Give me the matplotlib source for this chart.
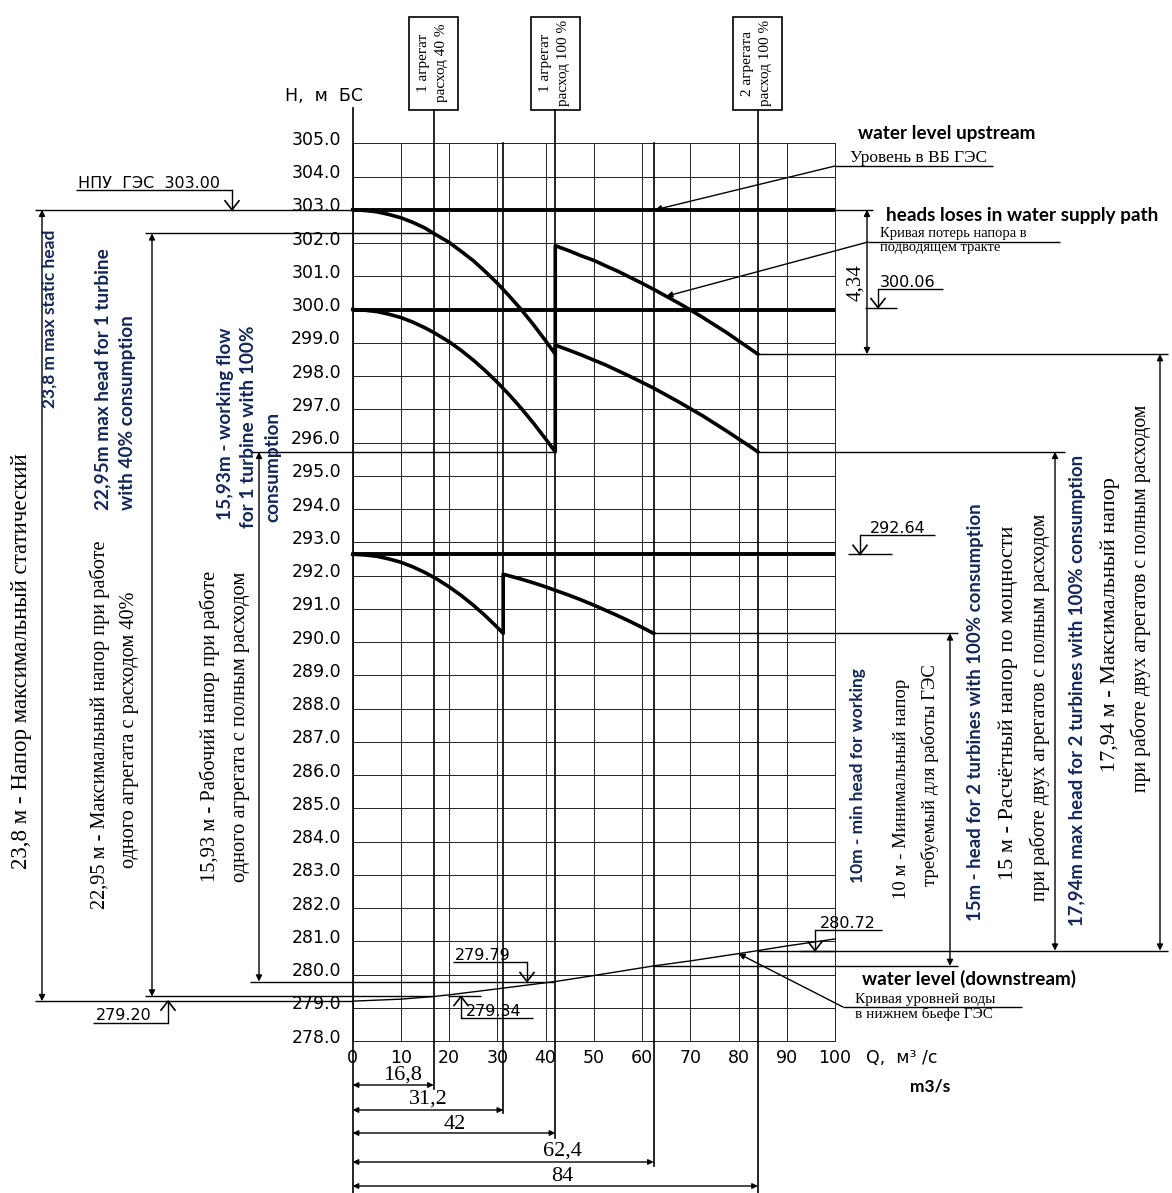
"""Head vs. discharge diagram for a small HPP (upstream level, head losses, tailwater)."""
import matplotlib
matplotlib.use("Agg")
import matplotlib.pyplot as plt
import numpy as np

# ---- values ----
q_ticks = [0, 10, 20, 30, 40, 50, 60, 70, 80, 90, 100]
h_ticks = list(range(278, 306))
q_marks = [16.8, 31.2, 42, 62.4, 84]
q_mark_labels = ["16,8", "31,2", "42", "62,4", "84"]

h_upstream = 303.00
h_level_300 = 300.00
h_level_low = 292.64

# head after losses, upstream level 303.00 (1 unit, then 2 units)
q_up_a = [0, 2.5, 5, 7.5, 10, 12.5, 15, 16.8, 20, 22.5, 25, 27.5, 30, 32.5, 35, 37.5, 40, 42]
h_up_a = [303.00, 302.98, 302.94, 302.86, 302.76, 302.62, 302.45, 302.29, 302.02, 301.75,
          301.47, 301.14, 300.79, 300.40, 299.99, 299.54, 299.06, 298.66]
q_up_b = [42, 45, 47.5, 50, 52.5, 55, 57.5, 60, 62.5, 65, 67.5, 70, 72.5, 75, 77.5, 80, 82, 84]
h_up_b = [301.92, 301.76, 301.61, 301.48, 301.31, 301.15, 300.97, 300.79, 300.60, 300.40,
          300.20, 299.99, 299.77, 299.54, 299.31, 299.06, 298.86, 298.66]

# same, starting from 300.00
q_mid_a = [0, 2.5, 5, 7.5, 10, 12.5, 15, 16.8, 20, 22.5, 25, 27.5, 30, 32.5, 35, 37.5, 40, 42]
h_mid_a = [300.00, 299.98, 299.94, 299.86, 299.76, 299.62, 299.45, 299.31, 299.03, 298.77,
           298.48, 298.16, 297.81, 297.43, 297.02, 296.58, 296.11, 295.72]
q_mid_b = [42, 45, 47.5, 50, 52.5, 55, 57.5, 60, 62.5, 65, 67.5, 70, 72.5, 75, 77.5, 80, 82, 84]
h_mid_b = [298.93, 298.77, 298.63, 298.48, 298.33, 298.16, 297.99, 297.81, 297.63, 297.43,
           297.23, 297.02, 296.81, 296.58, 296.35, 296.11, 295.92, 295.72]

# same, starting from 292.64
q_low_a = [0, 2.5, 5, 7.5, 10, 12.5, 15, 17.5, 20, 22.5, 25, 27.5, 30, 31.2]
h_low_a = [292.64, 292.62, 292.58, 292.50, 292.40, 292.26, 292.09, 291.89, 291.66, 291.40,
           291.11, 290.79, 290.44, 290.26]
q_low_b = [31.2, 35, 37.5, 40, 42.5, 45, 47.5, 50, 52.5, 55, 57.5, 60, 62.4]
h_low_b = [292.04, 291.89, 291.78, 291.66, 291.53, 291.40, 291.26, 291.11, 290.95, 290.79,
           290.62, 290.44, 290.26]

# tailwater curve
q_tail = [0, 10, 16.8, 20, 30, 42, 50, 62.4, 70, 80, 84, 90, 100]
h_tail = [279.20, 279.26, 279.34, 279.39, 279.57, 279.79, 279.97, 280.26, 280.41, 280.63,
          280.72, 280.86, 281.07]

# ---- pixel <-> data helpers for the drawing sheet ----
W, HPX = 1172, 1193
X0, XS = 352.7, 4.823   # px of Q=0, px per m3/s
Y0, YS = 143.3, 33.25   # px of H=305, px per m


def qx(px):
    return (px - X0) / XS


def hy(py):
    return 305 - (py - Y0) / YS


def px_of(q):
    return X0 + q * XS


CAD = ["DejaVu Sans"]
SERIF = ["Liberation Serif", "DejaVu Serif"]
BOLD = ["Lato", "DejaVu Sans"]
NAVY = "#14275a"

fig = plt.figure(figsize=(W / 100, HPX / 100), dpi=100)
ax = fig.add_axes([0, 0, 1, 1])
ax.set_xlim(qx(0), qx(W))
ax.set_ylim(hy(HPX), hy(0))
ax.axis("off")


def hline(h, px_a, px_b, lw=1.0):
    ax.plot([qx(px_a), qx(px_b)], [h, h], color="black", lw=lw, solid_capstyle="butt")


def vdim(px, h_top, h_bot):
    ax.annotate("", xy=(qx(px), h_top), xytext=(qx(px), h_bot),
                arrowprops=dict(arrowstyle="<|-|>", lw=1.0, color="black",
                                mutation_scale=9, shrinkA=0, shrinkB=0))


def vee(q, h, up=False):
    dq, dh = 7 / XS, 9 / YS
    s = -1 if up else 1
    ax.plot([q - dq, q, q + dq], [h + s * dh, h, h + s * dh], color="black", lw=1.2)


def rtext(px, py, s, size, fam=SERIF, color="black", weight="normal", ha="center"):
    ax.text(qx(px), hy(py), s, rotation=90, rotation_mode="anchor", ha=ha, va="center",
            fontsize=size, family=fam, color=color, fontweight=weight)


# grid
for q in q_ticks:
    ax.plot([q, q], [278, 305], color="#222222", lw=0.7)
for h in h_ticks:
    ax.plot([0, 100], [h, h], color="#222222", lw=0.7)
    ax.text(qx(341), h + 3.5 / YS, f"{h:.1f}", ha="right", va="center",
            fontsize=12.5, family=CAD)
for q in q_ticks:
    ax.text(q, hy(1058), str(q), ha="center", va="center", fontsize=12.5, family=CAD)

ax.text(qx(285), hy(96), "H,  м  БС", ha="left", va="center", fontsize=12.5, family=CAD)
ax.text(qx(866), hy(1058), "Q,  м³ /с", ha="left", va="center", fontsize=12.5, family=CAD)
ax.text(qx(910), hy(1086), "m3/s", ha="left", va="center", fontsize=12.5, family=BOLD,
        fontweight="bold")

# Q axis and special discharge lines
ax.plot([0, 0], [hy(108), hy(HPX)], color="black", lw=1.2)
mark_top = [hy(110), 305, hy(110), 305, hy(110)]
mark_bot = [hy(1089), hy(1113), hy(1138), hy(1166), hy(HPX)]
for q, t, b in zip(q_marks, mark_top, mark_bot):
    ax.plot([q, q], [t, b], color="black", lw=1.2)

# boxes above the chart
box_px = [(409, 458), (531, 580), (733, 782)]
box_text = [("1 агрегат", "расход 40 %"), ("1 агрегат", "расход 100 %"),
            ("2 агрегата", "расход 100 %")]
for (xa, xb), (t1, t2) in zip(box_px, box_text):
    ax.add_patch(plt.Rectangle((qx(xa), hy(110)), qx(xb) - qx(xa), hy(17) - hy(110),
                               fill=False, lw=1.2, color="black"))
    rtext(xa + 14, 63, t1, 11)
    rtext(xa + 33, 63, t2, 11)

# bottom dimension arrows
dim_py = [1085, 1110, 1133, 1162, 1186]
dim_txt = [(403, 1075), (428, 1099), (455, 1124), (562, 1151), (562, 1176)]
for q, lab, py, (tx, ty) in zip(q_marks, q_mark_labels, dim_py, dim_txt):
    ax.annotate("", xy=(0, hy(py)), xytext=(q, hy(py)),
                arrowprops=dict(arrowstyle="<|-|>", lw=1.0, color="black",
                                mutation_scale=8, shrinkA=0, shrinkB=0))
    ax.text(qx(tx), hy(ty), lab, ha="center", va="center", fontsize=16, family=SERIF)

# level lines and curves
for h in (h_upstream, h_level_300, h_level_low):
    ax.plot([0, 100], [h, h], color="black", lw=2.8, solid_capstyle="butt")
ax.plot(q_up_a + q_up_b, h_up_a + h_up_b, color="black", lw=2.6)
ax.plot(q_mid_a + q_mid_b, h_mid_a + h_mid_b, color="black", lw=2.6)
ax.plot(q_low_a + q_low_b, h_low_a + h_low_b, color="black", lw=2.6)
ax.plot(q_tail, h_tail, color="black", lw=1.0)

# extension lines for dimensions
hline(h_upstream, 35, X0)
hline(h_upstream, 835, 873)
hline(h_up_a[7], 145, px_of(16.8))
hline(h_mid_a[-1], 250, px_of(42))
hline(h_mid_b[-1], px_of(84), 1065)
hline(h_up_b[-1], px_of(84), 1168)
hline(h_low_b[-1], px_of(62.4), 958)
hline(h_tail[7], px_of(62.4), 958)
hline(h_tail[10], px_of(84), 1168)
hline(h_tail[5], 250, px_of(42))
hline(h_tail[0], 35, X0)
hline(h_tail[2], 145, px_of(16.8))

# vertical dimension arrows
vdim(42, h_upstream, h_tail[0])
vdim(152, h_up_a[7], h_tail[2])
vdim(259, h_mid_a[-1], h_tail[5])
vdim(867, h_upstream, h_up_b[-1])
vdim(950, h_low_b[-1], h_tail[7])
vdim(1055, h_mid_b[-1], h_tail[10])
vdim(1160, h_up_b[-1], h_tail[10])
rtext(856, 283, "4,34", 15)


# elevation flags
def flag(label, tx, ty, ul_a, ul_b, lead_px, tip_h, up=False, tick=None):
    ax.text(qx(tx), hy(ty), label, ha="left", va="center", fontsize=11.5, family=CAD)
    hline(hy(ty + 6.5), ul_a, ul_b, lw=1.0)
    ax.plot([qx(lead_px)] * 2, [hy(ty + 6.5), tip_h], color="black", lw=1.0)
    vee(qx(lead_px), tip_h, up=up)
    if tick:
        hline(tip_h, tick[0], tick[1], lw=1.0)


flag("НПУ  ГЭС  303.00", 78, 183, 76, 232, 232, h_upstream)
flag("300.06", 880, 282, 878, 943, 878, 300.06, tick=(865, 897))
flag("292.64", 870, 528, 860, 935, 860, h_level_low, tick=(848, 892))
flag("280.72", 820, 923, 815, 882, 815, h_tail[10], tick=(800, 835))
flag("279.79", 455, 955, 453, 527, 527, h_tail[5])
flag("279.34", 466, 1011, 461, 533, 461, 279.34, up=True, tick=(448, 481))
flag("279.20", 96, 1016, 93, 168, 168, h_tail[0], up=True)


# leaders with labels
def leader(tx, ty, lines, ul_a, ul_b, uy, target, size, step=13.5):
    for i, s in enumerate(lines):
        ax.text(qx(tx), hy(ty + step * i), s, ha="left", va="center", fontsize=size,
                family=SERIF)
    hline(hy(uy), ul_a, ul_b, lw=1.0)
    ax.annotate("", xy=target, xytext=(qx(ul_a), hy(uy)),
                arrowprops=dict(arrowstyle="-|>", lw=1.0, color="black",
                                mutation_scale=9, shrinkA=0, shrinkB=0))


leader(850, 158, ["Уровень в ВБ ГЭС"], 835, 993, 166, (62.7, h_upstream), 12.5)
leader(880, 234, ["Кривая потерь напора в", "подводящем тракте"], 868, 1060, 242,
       (65.0, 300.40), 10.5, step=14)
leader(855, 999, ["Кривая уровней воды", "в нижнем бьефе ГЭС"], 843, 1022, 1007,
       (80.0, h_tail[9]), 11, step=15)

# English captions
ax.text(qx(858), hy(134), "water level upstream", ha="left", va="center", fontsize=13.6,
        family=BOLD, fontweight="bold")
ax.text(qx(886), hy(215), "heads loses in water supply path", ha="left", va="center",
        fontsize=13.6, family=BOLD, fontweight="bold")
ax.text(qx(862), hy(979), "water level (downstream)", ha="left", va="center",
        fontsize=13.6, family=BOLD, fontweight="bold")

# rotated captions, left side
rtext(22, 661, "23,8 м - Напор максимальный статический", 16.5)
rtext(50, 319, "23,8 m max static head", 12.5, BOLD, NAVY, "bold")
rtext(100, 725, "22,95 м - Максимальный напор при работе", 14.6)
rtext(130, 730, "одного агрегата с расходом 40%", 14.6)
rtext(103, 510, "22,95m max head for 1 turbine", 13.7, BOLD, NAVY, "bold", ha="left")
rtext(128, 510, "with 40% consumption", 13.7, BOLD, NAVY, "bold", ha="left")
rtext(210, 726, "15,93 м - Рабочий напор при работе", 14.8)
rtext(240, 727, "одного агрегата с полным расходом", 14.8)
rtext(226, 520, "15,93m - working flow", 13.7, BOLD, NAVY, "bold", ha="left")
rtext(249, 528, "for 1 turbine with 100%", 13.7, BOLD, NAVY, "bold", ha="left")
rtext(273, 522, "consumption", 13.7, BOLD, NAVY, "bold", ha="left")

# rotated captions, right side
rtext(858, 776, "10m - min head for working", 12.5, BOLD, NAVY, "bold")
rtext(901, 789, "10 м - Минимальный напор", 13.5)
rtext(930, 775, "требуемый для работы ГЭС", 13.5)
rtext(975, 712, "15m - head for 2 turbines with 100% consumption", 13.4, BOLD, NAVY, "bold")
rtext(1008, 703, "15 м - Расчётный напор по мощности", 16)
rtext(1040, 707, "при работе двух агрегатов с полным расходом", 14.2)
rtext(1077, 690, "17,94m max head for 2 turbines with 100% consumption", 13.4, BOLD, NAVY,
      "bold")
rtext(1110, 625, "17,94 м - Максимальный напор", 16)
rtext(1141, 598, "при работе двух агрегатов с полным расходом", 14.2)

fig.savefig("out.png", dpi=100)
